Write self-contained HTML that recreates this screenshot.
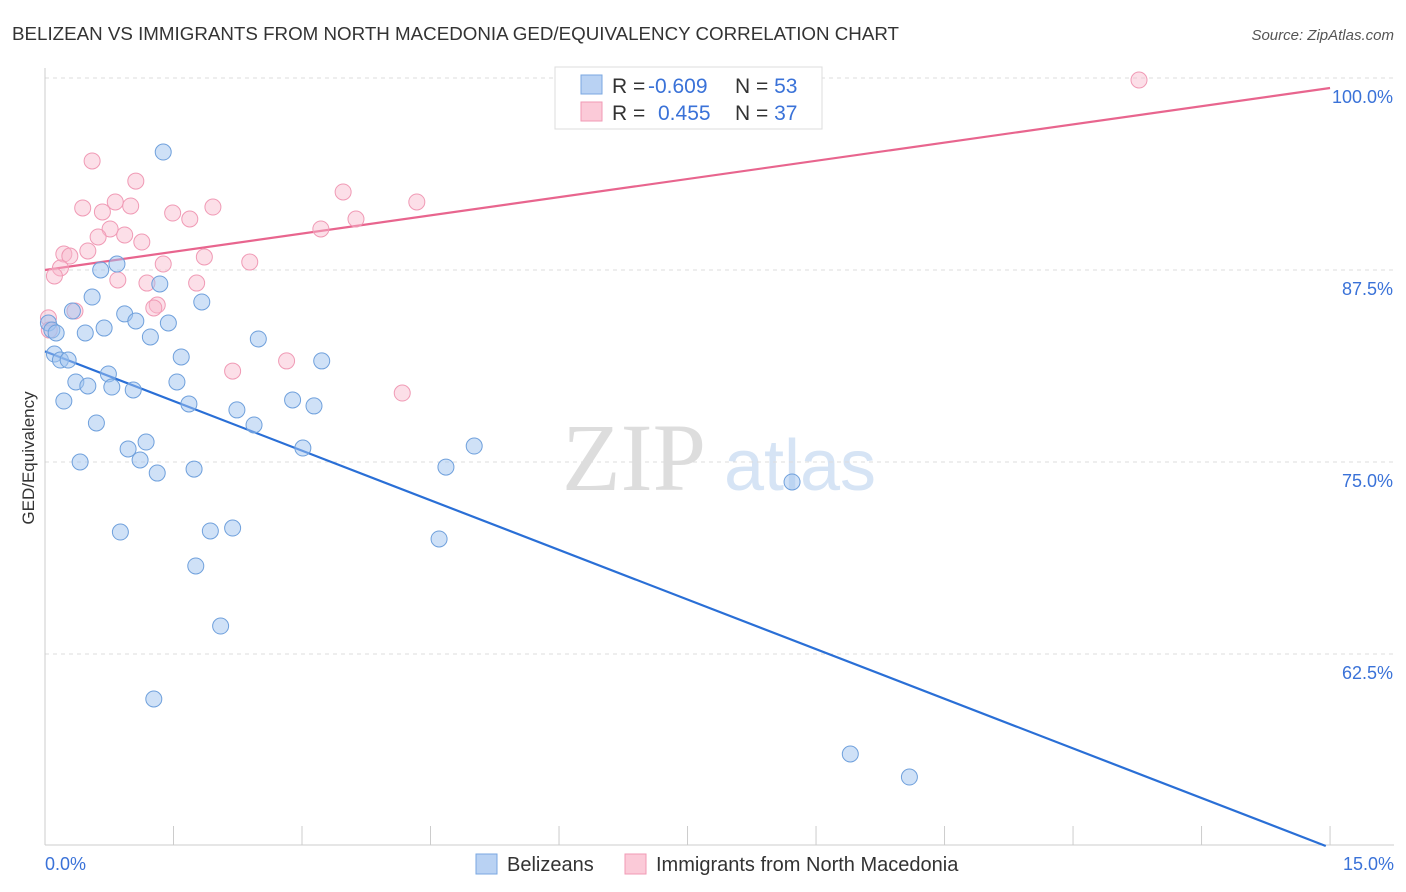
<!DOCTYPE html>
<html><head><meta charset="utf-8"><style>
body{margin:0;background:#fff;font-family:"Liberation Sans",sans-serif;}
svg{display:block}
</style></head><body>
<svg id="chart" width="1406" height="892">
<text x="12" y="40" font-size="18" fill="#333" textLength="887" lengthAdjust="spacingAndGlyphs">BELIZEAN VS IMMIGRANTS FROM NORTH MACEDONIA GED/EQUIVALENCY CORRELATION CHART</text>
<text x="1394" y="40" font-size="15" fill="#555" font-style="italic" text-anchor="end">Source: ZipAtlas.com</text>
<g><text x="634" y="490" font-size="96" font-family="Liberation Serif" fill="#ddd" text-anchor="middle">ZIP</text><text x="800" y="490" font-size="72" fill="#d6e4f5" text-anchor="middle">atlas</text></g>
<g id="grid"></g><g id="axes"></g><g id="lines"></g><g id="pts"></g>
<text transform="translate(34,458) rotate(-90)" font-size="17" fill="#333" text-anchor="middle">GED/Equivalency</text>
<g>
<rect x="555" y="67" width="267" height="62" fill="#fff" stroke="#ddd"/>
<rect x="581" y="75" width="21" height="19" fill="#b9d2f3" stroke="#7aa7e0"/>
<rect x="581" y="102" width="21" height="19" fill="#fbcad8" stroke="#f09ab5"/>
<text x="612" y="93" font-size="21" fill="#333">R = <tspan fill="#3a72d8" x="648">-0.609</tspan></text>
<text x="735" y="93" font-size="21" fill="#333">N = <tspan fill="#3a72d8">53</tspan></text>
<text x="612" y="120" font-size="21" fill="#333">R = <tspan fill="#3a72d8" x="658">0.455</tspan></text>
<text x="735" y="120" font-size="21" fill="#333">N = <tspan fill="#3a72d8">37</tspan></text>
</g>
<g>
<rect x="476" y="854" width="21" height="20" fill="#b9d2f3" stroke="#7aa7e0"/>
<text x="507" y="871" font-size="20" fill="#333">Belizeans</text>
<rect x="625" y="854" width="21" height="20" fill="#fbcad8" stroke="#f09ab5"/>
<text x="656" y="871" font-size="20" fill="#333">Immigrants from North Macedonia</text>
</g>
</svg>
<script>
const blueX=[1.38,0.04,0.08,0.13,0.32,0.55,0.65,0.84,1.83,1.34,0.93,1.06,1.44,0.69,0.47,1.23,2.49,0.11,0.18,0.27,1.59,3.23,0.74,0.36,0.50,0.78,1.03,1.54,0.22,1.68,2.89,3.14,2.24,0.60,2.44,1.18,0.97,3.01,1.11,0.41,1.31,1.74,5.01,4.68,8.72,0.88,1.93,2.19,4.60,1.76,2.05,1.27,9.40,10.09];
const blueY=[95.18,84.05,83.59,83.40,84.83,85.74,87.50,87.89,85.42,86.59,84.64,84.18,84.05,83.72,83.40,83.14,83.01,82.03,81.64,81.64,81.84,81.58,80.73,80.21,79.95,79.88,79.69,80.21,78.97,78.78,79.04,78.65,78.39,77.54,77.41,76.30,75.85,75.91,75.13,75.00,74.28,74.54,76.04,74.67,73.70,70.44,70.51,70.70,69.99,68.23,64.32,59.57,55.99,54.49];
const pinkX=[12.77,0.55,1.06,3.48,0.44,0.67,0.82,1.00,1.49,1.69,1.96,4.34,3.63,0.76,0.62,0.93,1.13,3.22,0.50,0.22,0.29,1.86,2.39,1.38,0.18,0.11,0.85,1.19,1.77,1.31,1.27,0.35,0.04,0.05,2.82,2.19,4.17];
const pinkY=[99.87,94.60,93.29,92.58,91.54,91.28,91.93,91.67,91.21,90.82,91.60,91.93,90.82,90.17,89.65,89.78,89.32,90.17,88.74,88.54,88.41,88.35,88.02,87.89,87.63,87.11,86.85,86.65,86.65,85.22,85.03,84.83,84.38,83.59,81.58,80.92,79.49];
const blueTrend=[82.2,50.0];
const pinkTrend=[87.5,99.35];
const yTicks=[100,87.5,75,62.5];
const yTickLabels=["100.0%","87.5%","75.0%","62.5%"];
const xTicks=[0,1.5,3,4.5,6,7.5,9,10.5,12,13.5,15];
const NS="http://www.w3.org/2000/svg";
const sx=v=>45+v*85.67, sy=v=>78+(100-v)*15.36;
function mk(p,t,a){const e=document.createElementNS(NS,t);for(const k in a)e.setAttribute(k,a[k]);document.getElementById(p).appendChild(e);return e;}
yTicks.forEach((v,i)=>{
 const l=mk('grid','line',{x1:45,x2:1394,y1:sy(v),y2:sy(v),stroke:'#ddd','stroke-dasharray':'4,4'});
 
 
 const t=mk('grid','text',{x:1393,y:sy(v)+25,'font-size':18,fill:'#3a72d8','text-anchor':'end'});
 t.textContent=yTickLabels[i];
 
 
});
const ax=mk('axes','line',{x1:45,x2:45,y1:68,y2:845,stroke:'#ccc'});


const bx=mk('axes','line',{x1:45,x2:1394,y1:845,y2:845,stroke:'#ccc'});


xTicks.forEach(v=>{const t=mk('axes','line',{x1:sx(v),x2:sx(v),y1:826,y2:845,stroke:'#ccc'});
 
 });
const x0=mk('axes','text',{x:45,y:870,'font-size':18,fill:'#3a72d8'});x0.textContent='0.0%';


const x1=mk('axes','text',{x:1394,y:870,'font-size':18,fill:'#3a72d8','text-anchor':'end'});x1.textContent='15.0%';


function pts(X,Y,f,s,n){X.forEach((x,i)=>{const c=mk('pts','circle',{cx:sx(x),cy:sy(Y[i]),r:8,fill:f,stroke:s,'stroke-width':1});
 
 });}
pts(pinkX,pinkY,'rgba(248,184,204,0.45)','#f09ab5','pink-point');
pts(blueX,blueY,'rgba(160,196,240,0.5)','#6fa0dc','blue-point');
const bl=mk('lines','line',{x1:sx(0),y1:sy(blueTrend[0]),x2:sx(14.95),y2:sy(blueTrend[1]),stroke:'#2a6fd6','stroke-width':2.2});


const pl=mk('lines','line',{x1:sx(0),y1:sy(pinkTrend[0]),x2:sx(15),y2:sy(pinkTrend[1]),stroke:'#e8658e','stroke-width':2.2});


</script>
</body></html>
